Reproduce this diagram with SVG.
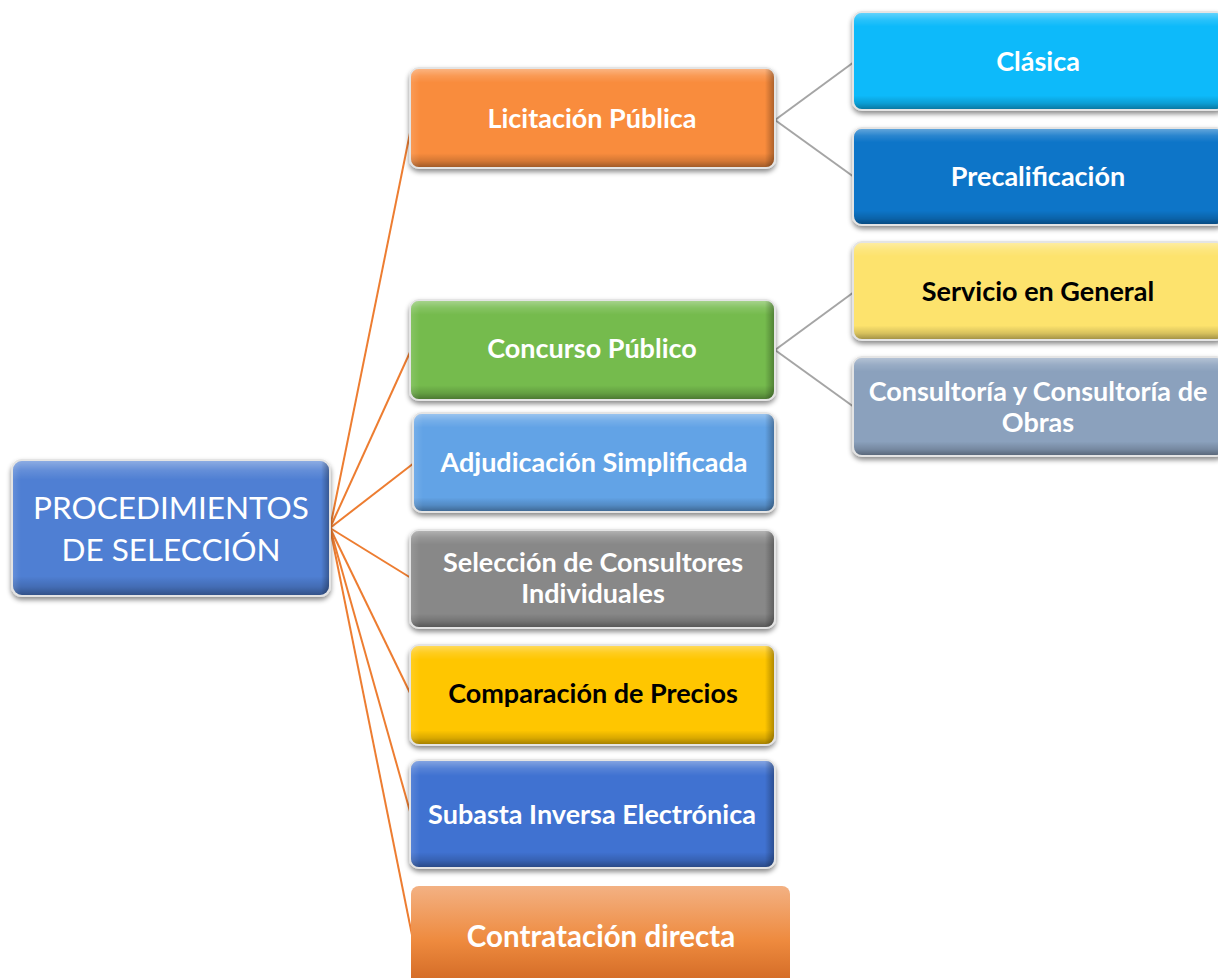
<svg xmlns="http://www.w3.org/2000/svg" width="1218" height="978" viewBox="0 0 1218 978">
  <defs>
    <filter id="shadow" x="-10%" y="-20%" width="120%" height="150%">
      <feDropShadow dx="0" dy="3" stdDeviation="2.5" flood-color="#000" flood-opacity="0.45"/>
    </filter>
    <!-- vertical bevel shading laid over each box colour -->
    <linearGradient id="bevelV" x1="0" y1="0" x2="0" y2="1">
      <stop offset="0" stop-color="#fff" stop-opacity="0.35"/>
      <stop offset="0.07" stop-color="#fff" stop-opacity="0.12"/>
      <stop offset="0.14" stop-color="#fff" stop-opacity="0"/>
      <stop offset="0.86" stop-color="#000" stop-opacity="0"/>
      <stop offset="0.94" stop-color="#000" stop-opacity="0.15"/>
      <stop offset="1" stop-color="#000" stop-opacity="0.35"/>
    </linearGradient>
    <linearGradient id="bevelH" x1="0" y1="0" x2="1" y2="0">
      <stop offset="0" stop-color="#fff" stop-opacity="0.12"/>
      <stop offset="0.025" stop-color="#fff" stop-opacity="0"/>
      <stop offset="0.975" stop-color="#000" stop-opacity="0"/>
      <stop offset="1" stop-color="#000" stop-opacity="0.3"/>
    </linearGradient>
    <linearGradient id="gradDirecta" x1="0" y1="0" x2="0" y2="1">
      <stop offset="0" stop-color="#f3b183"/>
      <stop offset="0.5" stop-color="#ee8a3e"/>
      <stop offset="1" stop-color="#c9601e"/>
    </linearGradient>
    <style>
      .edge { stroke: #e4e4e4; stroke-width: 2; }
      .shade { fill: url(#bevelV); }
      .shadeH { fill: url(#bevelH); }
      .lbl { font-family: Lato, "Open Sans", "Liberation Sans", sans-serif; font-weight: bold; font-size: 27px; fill: #fff; text-anchor: middle; }
      .big { font-size: 29.5px; }
      .dark { fill: #000; }
      .root { font-family: Lato, "Open Sans", "Liberation Sans", sans-serif; font-size: 31.5px; fill: #fff; text-anchor: middle; }
      .conOrange { stroke: #ed7d31; stroke-width: 2; fill: none; }
      .conGray { stroke: #a5a5a5; stroke-width: 2; fill: none; }
    </style>
  </defs>

  <rect width="1218" height="978" fill="#fff"/>

  <!-- connectors -->
  <g id="connectors">
    <line class="conOrange" x1="330" y1="528" x2="411" y2="128"/>
    <line class="conOrange" x1="330" y1="528" x2="411" y2="350"/>
    <line class="conOrange" x1="330" y1="528" x2="414" y2="463"/>
    <line class="conOrange" x1="330" y1="528" x2="411" y2="578"/>
    <line class="conOrange" x1="330" y1="528" x2="411" y2="695"/>
    <line class="conOrange" x1="330" y1="528" x2="411" y2="815"/>
    <line class="conOrange" x1="330" y1="528" x2="412" y2="935"/>
    <line class="conGray" x1="775" y1="120" x2="854" y2="62"/>
    <line class="conGray" x1="775" y1="120" x2="854" y2="177"/>
    <line class="conGray" x1="775" y1="350" x2="854" y2="292"/>
    <line class="conGray" x1="775" y1="350" x2="854" y2="407"/>
  </g>

  <!-- root node -->
  <g id="root">
    <rect class="edge" x="12" y="460" width="318" height="136" rx="10" fill="#4f7fd3" filter="url(#shadow)"/>
    <rect class="shade" x="13" y="461" width="316" height="134" rx="9"/>
    <rect class="shadeH" x="13" y="461" width="316" height="134" rx="9"/>
    <text class="root" x="171" y="519">PROCEDIMIENTOS</text>
    <text class="root" x="171" y="561">DE SELECCIÓN</text>
  </g>

  <g id="licitacion">
    <rect class="edge" x="410" y="68" width="365" height="100" rx="9" fill="#f98c3c" filter="url(#shadow)"/>
    <rect class="shade" x="411" y="69" width="363" height="98" rx="8"/>
    <rect class="shadeH" x="411" y="69" width="363" height="98" rx="8"/>
    <text class="lbl" x="592" y="128">Licitación Pública</text>
  </g>

  <g id="clasica">
    <rect class="edge" x="853" y="12" width="372" height="98" rx="9" fill="#08bafa" filter="url(#shadow)"/>
    <rect class="shade" x="854" y="13" width="370" height="96" rx="8"/>
    <text class="lbl" x="1038" y="71">Clásica</text>
  </g>

  <g id="precalificacion">
    <rect class="edge" x="853" y="128" width="372" height="97" rx="9" fill="#0a74c8" filter="url(#shadow)"/>
    <rect class="shade" x="854" y="129" width="370" height="95" rx="8"/>
    <text class="lbl" x="1038" y="186">Precalificación</text>
  </g>

  <g id="servicio">
    <rect class="edge" x="853" y="242" width="372" height="98" rx="9" fill="#fde36d" filter="url(#shadow)"/>
    <rect class="shade" x="854" y="243" width="370" height="96" rx="8"/>
    <text class="lbl dark" x="1038" y="301">Servicio en General</text>
  </g>

  <g id="consultoria">
    <rect class="edge" x="853" y="357" width="372" height="99" rx="9" fill="#8ba1bd" filter="url(#shadow)"/>
    <rect class="shade" x="854" y="358" width="370" height="97" rx="8"/>
    <text class="lbl" x="1038" y="401">Consultoría y Consultoría de</text>
    <text class="lbl" x="1038" y="432">Obras</text>
  </g>

  <g id="concurso">
    <rect class="edge" x="410" y="300" width="365" height="100" rx="9" fill="#74bb4d" filter="url(#shadow)"/>
    <rect class="shade" x="411" y="301" width="363" height="98" rx="8"/>
    <rect class="shadeH" x="411" y="301" width="363" height="98" rx="8"/>
    <text class="lbl" x="592" y="358">Concurso Público</text>
  </g>

  <g id="adjudicacion">
    <rect class="edge" x="413" y="413" width="362" height="99" rx="9" fill="#62a3e6" filter="url(#shadow)"/>
    <rect class="shade" x="414" y="414" width="360" height="97" rx="8"/>
    <rect class="shadeH" x="414" y="414" width="360" height="97" rx="8"/>
    <text class="lbl" x="594" y="472">Adjudicación Simplificada</text>
  </g>

  <g id="seleccion">
    <rect class="edge" x="410" y="530" width="365" height="98" rx="9" fill="#888888" filter="url(#shadow)"/>
    <rect class="shade" x="411" y="531" width="363" height="96" rx="8"/>
    <rect class="shadeH" x="411" y="531" width="363" height="96" rx="8"/>
    <text class="lbl" x="593" y="572">Selección de Consultores</text>
    <text class="lbl" x="593" y="603">Individuales</text>
  </g>

  <g id="comparacion">
    <rect class="edge" x="410" y="645" width="365" height="100" rx="9" fill="#ffc605" filter="url(#shadow)"/>
    <rect class="shade" x="411" y="646" width="363" height="98" rx="8"/>
    <rect class="shadeH" x="411" y="646" width="363" height="98" rx="8"/>
    <text class="lbl dark" x="593" y="703">Comparación de Precios</text>
  </g>

  <g id="subasta">
    <rect class="edge" x="410" y="760" width="365" height="108" rx="9" fill="#3f72d1" filter="url(#shadow)"/>
    <rect class="shade" x="411" y="761" width="363" height="106" rx="8"/>
    <rect class="shadeH" x="411" y="761" width="363" height="106" rx="8"/>
    <text class="lbl" x="592" y="824">Subasta Inversa Electrónica</text>
  </g>

  <g id="directa">
    <rect x="411" y="886" width="379" height="110" rx="8" fill="url(#gradDirecta)"/>
    <text class="lbl big" x="601" y="947">Contratación directa</text>
  </g>
</svg>
